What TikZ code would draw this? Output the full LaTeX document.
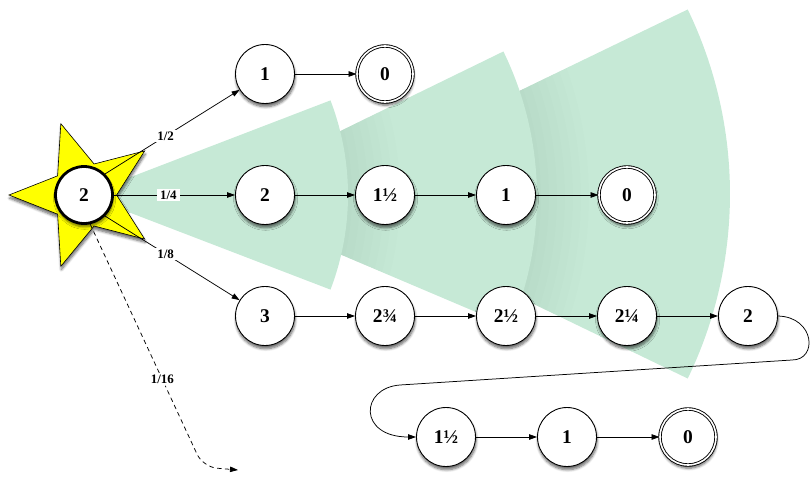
\documentclass[tikz,border=0pt]{standalone}
\usepackage{fontspec}
\setmainfont{Liberation Serif}
\usetikzlibrary{arrows.meta,shapes.geometric,shadows.blur}
\definecolor{treegreen}{RGB}{198,233,214}
\definecolor{staryellow}{RGB}{255,255,0}
\tikzset{
  nshadow/.style={blur shadow={shadow xshift=0.6pt, shadow yshift=-3.2pt, shadow blur radius=2.6pt, shadow blur steps=6, shadow opacity=60}},
  stat/.style={circle, draw=black, line width=0.9pt, fill=white, minimum size=59bp, inner sep=0pt,
    font=\fontsize{19.5}{22}\selectfont\bfseries, nshadow},
  accst/.style={stat, double=white, double distance=1.6pt, minimum size=56bp},
  startst/.style={stat, line width=2.8pt, minimum size=57bp},
  starbg/.style={star, star points=5, star point ratio=2.3, shape border rotate=90, minimum size=150bp,
    fill=staryellow, draw=black, line width=0.6pt, inner sep=0pt, nshadow},
  arr/.style={-{Triangle[length=8pt,width=5.5pt]}, line width=0.75pt, black},
  lab/.style={fill=white, inner xsep=3pt, inner ysep=2pt, font=\fontsize{13}{15}\selectfont\bfseries},
  band/.style={black, opacity=0.0075}
}
\begin{document}
\begin{tikzpicture}[x=1bp, y=-1bp]
\useasboundingbox (0,0) rectangle (812,477);
% tree tiers (back to front)
\fill[treegreen] (306,194) -- ++(25.8:424) arc[start angle=25.8, end angle=-25.8, radius=424] -- cycle;
\begin{scope}
  \clip (306,194) -- ++(25.8:424) arc[start angle=25.8, end angle=-25.8, radius=424] -- cycle;
  \foreach \r in {336,344,...,384}
    \fill[band] (205,197) -- ++(23:\r) arc[start angle=23, end angle=-26, radius=\r] -- cycle;
\end{scope}
\fill[treegreen] (205,197) -- ++(23:332) arc[start angle=23, end angle=-26, radius=332] -- cycle;
\begin{scope}
  \clip (205,197) -- ++(23:332) arc[start angle=23, end angle=-26, radius=332] -- cycle;
  \foreach \r in {268,276,...,316}
    \fill[band] (84,195) -- ++(21:\r) arc[start angle=21, end angle=-21, radius=\r] -- cycle;
\end{scope}
\fill[treegreen] (84,195) -- ++(21:264) arc[start angle=21, end angle=-21, radius=264] -- cycle;

% star and start state
\node[starbg] (sb) at (84,195) {};
\node[startst] (s) at (84,195) {2};

% row 1
\node[stat] (a1) at (265,74) {1};
\node[accst] (a2) at (385,74) {0};
% row 2
\node[stat] (b1) at (265,195) {2};
\node[stat] (b2) at (385,195) {1½};
\node[stat] (b3) at (506,195) {1};
\node[accst] (b4) at (627,195) {0};
% row 3
\node[stat] (c1) at (265,316) {3};
\node[stat] (c2) at (385,316) {2¾};
\node[stat] (c3) at (506,316) {2½};
\node[stat] (c4) at (627,316) {2¼};
\node[stat] (c5) at (748,316) {2};
% row 4
\node[stat] (d1) at (446,437) {1½};
\node[stat] (d2) at (567,437) {1};
\node[accst] (d3) at (688,437) {0};

% edges from start
\draw[arr] (s.45) -- node[lab, pos=0.45] {1/2} (a1);
\draw[arr] (s.east) -- node[lab, pos=0.45] {1/4} (b1);
\draw[arr] (s.-45) -- node[lab, pos=0.45] {1/8} (c1);
\coordinate (dk) at (203,467);
\coordinate (dend) at (238,470);
\draw[arr, dashed, dash pattern=on 4.5pt off 3.5pt, rounded corners=14pt] (s.-78) -- node[lab, pos=0.64] {1/16} (dk) -- (dend);

% chains
\draw[arr] (a1) -- (a2);
\draw[arr] (b1) -- (b2);
\draw[arr] (b2) -- (b3);
\draw[arr] (b3) -- (b4);
\draw[arr] (c1) -- (c2);
\draw[arr] (c2) -- (c3);
\draw[arr] (c3) -- (c4);
\draw[arr] (c4) -- (c5);
\coordinate (l1) at (792,360);
\coordinate (l2) at (400,385);
\draw[arr] (c5.east) .. controls (815,317) and (818,360) .. (l1) -- (l2) .. controls (360,388) and (358,437) .. (d1.west);
\draw[arr] (d1) -- (d2);
\draw[arr] (d2) -- (d3);
\end{tikzpicture}
\end{document}
